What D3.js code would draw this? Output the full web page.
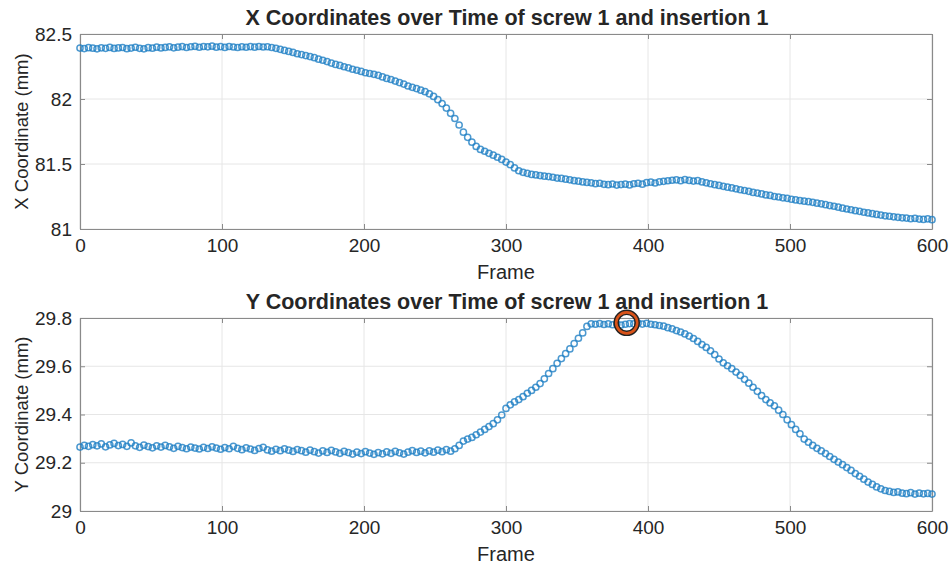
<!DOCTYPE html>
<html><head><meta charset="utf-8">
<script src="https://cdn.jsdelivr.net/npm/d3@7"></script>
<style>
body{margin:0;background:#fff;}
svg text{font-family:"Liberation Sans",Arial,Helvetica,sans-serif;fill:#262626;}
</style></head>
<body><svg id="c" width="949" height="572"></svg>
<script>
// frames sampled every 3 frames, 0..600
const frameStep = 3;
const xCoord = [
82.392,82.388,82.395,82.391,82.386,82.394,82.390,82.397,82.389,82.393,
82.396,82.387,82.392,82.398,82.390,82.386,82.395,82.391,82.399,82.393,
82.397,82.401,82.394,82.399,82.403,82.396,82.402,82.405,82.398,82.404,
82.401,82.406,82.399,82.403,82.397,82.404,82.400,82.396,82.402,82.398,
82.403,82.399,82.404,82.400,82.402,82.396,82.390,82.382,82.374,82.366,
82.358,82.348,82.342,82.334,82.326,82.318,82.306,82.298,82.288,82.276,
82.266,82.258,82.248,82.240,82.229,82.221,82.212,82.202,82.196,82.190,
82.182,82.170,82.158,82.150,82.138,82.126,82.115,82.100,82.090,82.080,
82.068,82.056,82.040,82.020,81.995,81.965,81.930,81.890,81.850,81.800,
81.745,81.705,81.668,81.635,81.612,81.598,81.582,81.568,81.552,81.535,
81.515,81.495,81.470,81.448,81.436,81.428,81.420,81.416,81.411,81.406,
81.403,81.398,81.392,81.389,81.383,81.378,81.372,81.368,81.362,81.358,
81.355,81.349,81.352,81.344,81.341,81.346,81.338,81.342,81.345,81.339,
81.348,81.352,81.345,81.356,81.360,81.354,81.363,81.367,81.371,81.375,
81.378,81.372,81.380,81.374,81.369,81.372,81.362,81.355,81.348,81.341,
81.335,81.328,81.322,81.316,81.309,81.302,81.296,81.290,81.281,81.276,
81.270,81.262,81.258,81.250,81.246,81.240,81.236,81.229,81.224,81.219,
81.214,81.210,81.205,81.199,81.194,81.187,81.180,81.175,81.168,81.160,
81.154,81.148,81.141,81.136,81.129,81.124,81.118,81.112,81.107,81.101,
81.098,81.094,81.090,81.086,81.084,81.079,81.082,81.076,81.074,81.078,
81.072];
const yCoord = [
29.265,29.272,29.268,29.275,29.270,29.278,29.266,29.274,29.280,29.271,
29.276,29.268,29.282,29.270,29.264,29.273,29.267,29.262,29.270,29.265,
29.272,29.266,29.260,29.268,29.263,29.258,29.265,29.261,29.257,29.264,
29.259,29.266,29.261,29.256,29.263,29.258,29.268,29.260,29.254,29.262,
29.257,29.251,29.259,29.264,29.253,29.248,29.256,29.250,29.258,29.252,
29.247,29.255,29.250,29.244,29.252,29.246,29.240,29.249,29.243,29.251,
29.245,29.239,29.247,29.242,29.236,29.244,29.238,29.246,29.240,29.235,
29.242,29.237,29.245,29.239,29.247,29.241,29.236,29.244,29.250,29.243,
29.248,29.241,29.249,29.244,29.252,29.246,29.254,29.248,29.258,29.272,
29.290,29.298,29.305,29.316,29.327,29.338,29.350,29.362,29.378,29.398,
29.425,29.440,29.452,29.462,29.474,29.488,29.500,29.513,29.528,29.548,
29.570,29.590,29.612,29.632,29.652,29.672,29.694,29.716,29.738,29.765,
29.776,29.774,29.777,29.773,29.776,29.772,29.775,29.771,29.774,29.777,
29.776,29.779,29.775,29.778,29.774,29.772,29.769,29.766,29.760,29.755,
29.748,29.742,29.734,29.725,29.715,29.703,29.690,29.678,29.664,29.648,
29.630,29.614,29.602,29.590,29.576,29.562,29.546,29.530,29.513,29.496,
29.478,29.462,29.448,29.436,29.418,29.400,29.378,29.358,29.338,29.320,
29.298,29.285,29.272,29.260,29.249,29.238,29.226,29.214,29.203,29.192,
29.180,29.168,29.155,29.144,29.132,29.120,29.110,29.100,29.092,29.085,
29.081,29.077,29.079,29.074,29.072,29.076,29.070,29.074,29.071,29.073,
29.070];
const frameTicks = [0,100,200,300,400,500,600];
const xTicks = [81,81.5,82,82.5];
const yTicks = [29,29.2,29.4,29.6,29.8];
const highlight = [385, 29.78];

const svg = d3.select("#c");
const L = 80, R = 932;
const panels = [
  {top:34, bottom:229, data:xCoord, dom:[81,82.5], ticks:xTicks,
   title:"X Coordinates over Time of screw 1 and insertion 1", ylab:"X Coordinate (mm)"},
  {top:318, bottom:511, data:yCoord, dom:[29,29.8], ticks:yTicks,
   title:"Y Coordinates over Time of screw 1 and insertion 1", ylab:"Y Coordinate (mm)"}
];
const x = d3.scaleLinear().domain([0,600]).range([L,R]);
const axisCol = "#8a8a8a";

panels.forEach((p,i)=>{
  const y = d3.scaleLinear().domain(p.dom).range([p.bottom,p.top]);
  const g = svg.append("g");
  // grid
  g.append("g").selectAll("line").data(frameTicks).join("line")
    .attr("x1",d=>x(d)).attr("x2",d=>x(d)).attr("y1",p.top).attr("y2",p.bottom)
    .attr("stroke","#e6e6e6").attr("stroke-width",1);
  g.append("g").selectAll("line").data(p.ticks).join("line")
    .attr("x1",L).attr("x2",R).attr("y1",d=>y(d)).attr("y2",d=>y(d))
    .attr("stroke","#e6e6e6").attr("stroke-width",1);
  // axes
  const fmt = d=>String(d);
  const ax = d3.axisBottom(x).tickValues(frameTicks).tickFormat(fmt).tickSizeInner(-5).tickSizeOuter(0).tickPadding(10);
  const axT = d3.axisTop(x).tickValues(frameTicks).tickFormat("").tickSizeInner(-5).tickSizeOuter(0);
  const ay = d3.axisLeft(y).tickValues(p.ticks).tickFormat(fmt).tickSizeInner(-5).tickSizeOuter(0).tickPadding(8);
  const ayR = d3.axisRight(y).tickValues(p.ticks).tickFormat("").tickSizeInner(-5).tickSizeOuter(0);
  const gb = g.append("g").attr("transform",`translate(0,${p.bottom})`).call(ax);
  const gt = g.append("g").attr("transform",`translate(0,${p.top})`).call(axT);
  const gl = g.append("g").attr("transform",`translate(${L},0)`).call(ay);
  const gr = g.append("g").attr("transform",`translate(${R},0)`).call(ayR);
  [gb,gt,gl,gr].forEach(a=>{
    a.selectAll(".domain").attr("stroke",axisCol).attr("stroke-width",1.2);
    a.selectAll(".tick line").attr("stroke",axisCol);
    a.selectAll("text").style("font-size","19px").attr("fill","#262626");
  });
  // markers
  g.append("g").selectAll("circle").data(p.data).join("circle")
    .attr("cx",(d,k)=>x(k*frameStep)).attr("cy",d=>y(d)).attr("r",3.1)
    .attr("fill","none").attr("stroke","#1f7fc4").attr("stroke-opacity",0.8).attr("stroke-width",1.5);
  // title, labels
  svg.append("text").attr("x",(L+R)/2 + 1).attr("y",p.top-9).attr("text-anchor","middle")
    .style("font-size","21.5px").style("font-weight","bold").text(p.title);
  svg.append("text").attr("x",(L+R)/2).attr("y",p.bottom+50).attr("text-anchor","middle")
    .style("font-size","20px").text("Frame");
  svg.append("text").attr("transform",`translate(28,${(p.top+p.bottom)/2}) rotate(-90)`)
    .attr("text-anchor","middle").style("font-size","18.5px").text(p.ylab);
  if(i===1){
    const hg = svg.append("g");
    hg.append("circle").attr("cx",x(highlight[0])).attr("cy",y(highlight[1])).attr("r",10.5)
      .attr("fill","none").attr("stroke","#222").attr("stroke-width",5.5);
    hg.append("circle").attr("cx",x(highlight[0])).attr("cy",y(highlight[1])).attr("r",10.5)
      .attr("fill","none").attr("stroke","#D95319").attr("stroke-width",2.6);
  }
});
</script></body></html>
